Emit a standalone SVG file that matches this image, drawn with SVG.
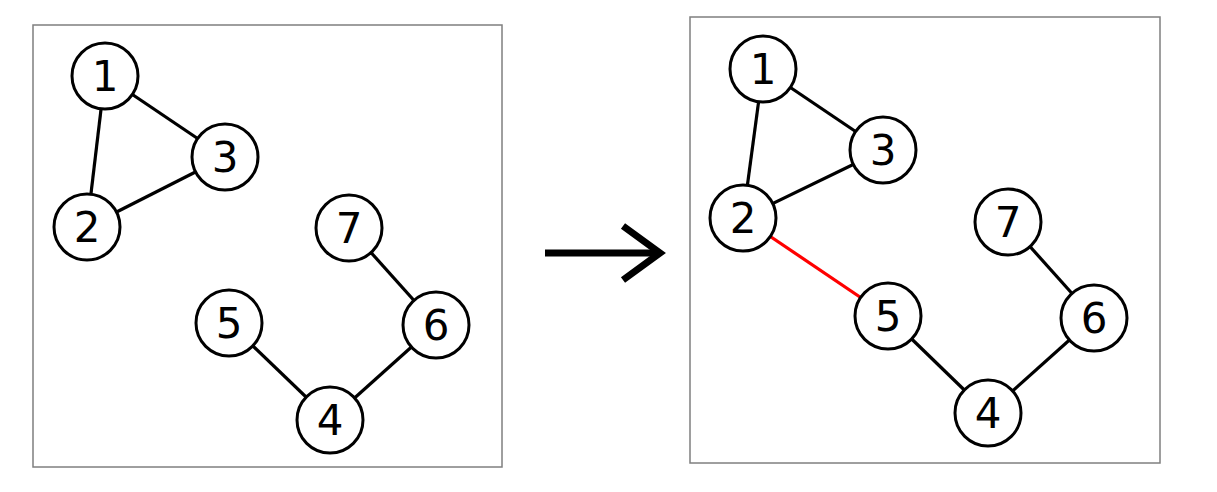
<svg xmlns="http://www.w3.org/2000/svg" width="1217" height="492" viewBox="0 0 1217 492">
  <style>
    .frame { fill: #ffffff; stroke: #7f7f7f; stroke-width: 1.5; }
    .edge { stroke: #000000; stroke-width: 3.2; fill: none; }
    .edge.added { stroke: #ff0000; }
    .node circle { fill: #ffffff; stroke: #000000; stroke-width: 3; }
    .node text { font-family: "DejaVu Sans", Verdana, sans-serif; font-size: 42px; fill: #000000; text-anchor: middle; dominant-baseline: central; }
  </style>
  <rect width="1217" height="492" fill="#ffffff"/>

  <!-- before -->
  <rect class="frame" x="33" y="25" width="469" height="442"/>
  <!-- after -->
  <rect class="frame" x="690" y="17" width="470" height="446"/>

  <g id="connectors">
    <!-- left graph -->
    <line class="edge" x1="105" y1="76" x2="87" y2="227"/>
    <line class="edge" x1="105" y1="76" x2="225" y2="157"/>
    <line class="edge" x1="87" y1="227" x2="225" y2="157"/>
    <line class="edge" x1="349" y1="228" x2="436" y2="325"/>
    <line class="edge" x1="229" y1="323" x2="330" y2="420"/>
    <line class="edge" x1="330" y1="420" x2="436" y2="325"/>
    <!-- right graph -->
    <line class="edge" x1="763" y1="69" x2="743" y2="218"/>
    <line class="edge" x1="763" y1="69" x2="883" y2="150"/>
    <line class="edge" x1="743" y1="218" x2="883" y2="150"/>
    <line class="edge added" x1="743" y1="218" x2="888" y2="316"/>
    <line class="edge" x1="1008" y1="222" x2="1094" y2="318"/>
    <line class="edge" x1="888" y1="316" x2="988" y2="413"/>
    <line class="edge" x1="988" y1="413" x2="1094" y2="318"/>
    <!-- transition arrow -->
    <path d="M545 253 H660" stroke="#000" stroke-width="7" fill="none"/>
    <path d="M623 226 L660 253 L623 280" stroke="#000" stroke-width="7" fill="none" stroke-linejoin="miter"/>
  </g>

  <!-- left graph nodes -->
  <g id="l1" class="node"><circle cx="105" cy="76" r="33"/><text x="105" y="76">1</text></g>
  <g id="l2" class="node"><circle cx="87" cy="227" r="33"/><text x="87" y="227">2</text></g>
  <g id="l3" class="node"><circle cx="225" cy="157" r="33"/><text x="225" y="157">3</text></g>
  <g id="l4" class="node"><circle cx="330" cy="420" r="33"/><text x="330" y="420">4</text></g>
  <g id="l5" class="node"><circle cx="229" cy="323" r="33"/><text x="229" y="323">5</text></g>
  <g id="l6" class="node"><circle cx="436" cy="325" r="33"/><text x="436" y="325">6</text></g>
  <g id="l7" class="node"><circle cx="349" cy="228" r="33"/><text x="349" y="228">7</text></g>

  <!-- right graph nodes -->
  <g id="r1" class="node"><circle cx="763" cy="69" r="33"/><text x="763" y="69">1</text></g>
  <g id="r2" class="node"><circle cx="743" cy="218" r="33"/><text x="743" y="218">2</text></g>
  <g id="r3" class="node"><circle cx="883" cy="150" r="33"/><text x="883" y="150">3</text></g>
  <g id="r4" class="node"><circle cx="988" cy="413" r="33"/><text x="988" y="413">4</text></g>
  <g id="r5" class="node"><circle cx="888" cy="316" r="33"/><text x="888" y="316">5</text></g>
  <g id="r6" class="node"><circle cx="1094" cy="318" r="33"/><text x="1094" y="318">6</text></g>
  <g id="r7" class="node"><circle cx="1008" cy="222" r="33"/><text x="1008" y="222">7</text></g>
</svg>
